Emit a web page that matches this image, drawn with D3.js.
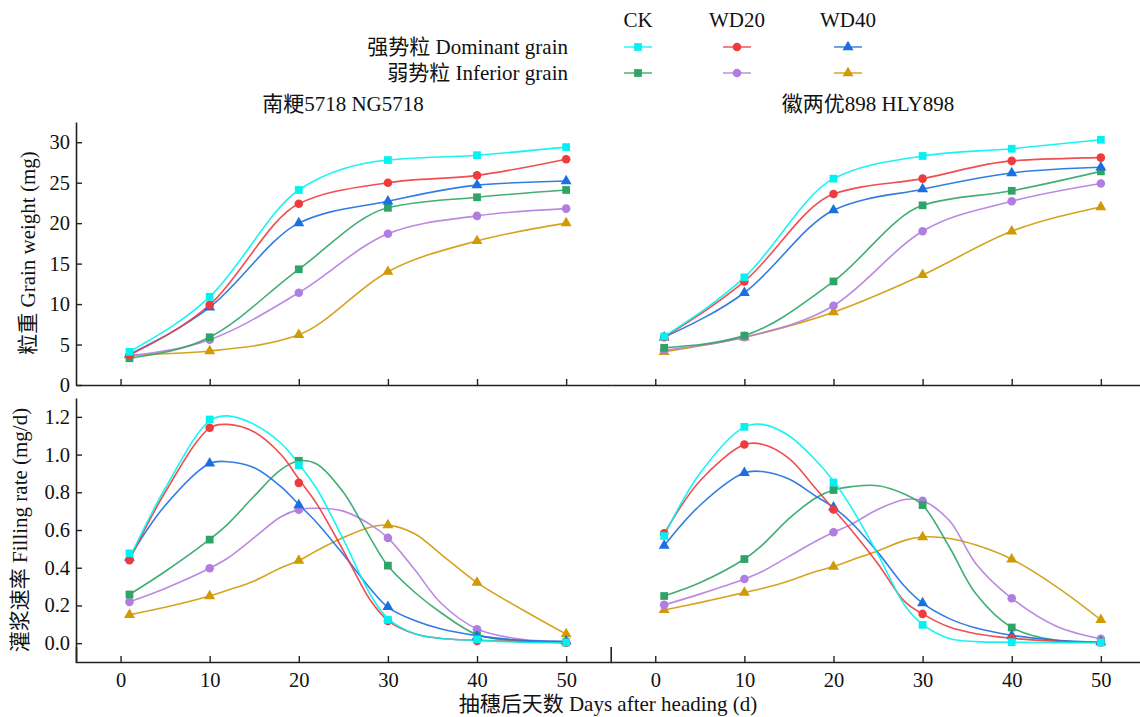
<!DOCTYPE html>
<html><head><meta charset="utf-8">
<script src="https://cdn.jsdelivr.net/npm/d3@7"></script>
<style>
body{margin:0;background:#fff}
svg{display:block}
text{font-family:"Liberation Serif","Times New Roman","Noto Sans CJK SC",serif;fill:#111}
</style>
</head><body>
<svg id="c" width="1140" height="717"></svg>
<script>
// ---------- DATA ----------
const days = [1, 10, 20, 30, 40, 50];
const fitDays = [1, 5, 10, 12, 15, 18, 20, 22, 25, 28, 30, 33, 36, 40, 45, 50];
const xTicks = [0, 10, 20, 30, 40, 50];
const weightTicks = [0, 5, 10, 15, 20, 25, 30];
const rateTicks = [0, 0.2, 0.4, 0.6, 0.8, 1.0, 1.2];
const treatments = ["CK", "WD20", "WD40"];
const grainTypes = ["强势粒 Dominant grain", "弱势粒 Inferior grain"];
const cultivars = ["南粳5718 NG5718", "徽两优898 HLY898"];
const yLabelWeight = "粒重 Grain weight (mg)";
const yLabelRate = "灌浆速率 Filling rate (mg/d)";
const xLabel = "抽穗后天数 Days after heading (d)";

// Grain weight (mg) — NG5718
const ngWeightDomCK   = [4.1, 10.9, 24.1, 27.8, 28.4, 29.4];
const ngWeightDomWD20 = [3.7, 9.9, 22.4, 25.0, 25.9, 27.9];
const ngWeightDomWD40 = [3.8, 9.6, 20.0, 22.7, 24.7, 25.2];
const ngWeightInfCK   = [3.3, 5.9, 14.3, 21.9, 23.2, 24.1];
const ngWeightInfWD20 = [3.6, 5.6, 11.4, 18.7, 20.9, 21.8];
const ngWeightInfWD40 = [3.7, 4.2, 6.2, 14.0, 17.8, 20.0];
// Grain weight (mg) — HLY898
const hlyWeightDomCK   = [6.0, 13.3, 25.5, 28.3, 29.2, 30.3];
const hlyWeightDomWD20 = [5.9, 12.8, 23.6, 25.5, 27.7, 28.1];
const hlyWeightDomWD40 = [5.9, 11.4, 21.6, 24.2, 26.2, 26.9];
const hlyWeightInfCK   = [4.6, 6.1, 12.8, 22.2, 24.0, 26.4];
const hlyWeightInfWD20 = [4.3, 5.9, 9.8, 19.0, 22.7, 24.9];
const hlyWeightInfWD40 = [4.1, 5.9, 9.0, 13.6, 19.0, 22.0];

// Filling rate markers (mg/d) — NG5718
const ngRateDomCK   = [0.476, 1.186, 0.944, 0.124, 0.02, 0.004];
const ngRateDomWD20 = [0.44, 1.142, 0.85, 0.118, 0.012, 0.002];
const ngRateDomWD40 = [0.454, 0.953, 0.732, 0.192, 0.035, 0.01];
const ngRateInfCK   = [0.258, 0.549, 0.967, 0.411, 0.04, 0.004];
const ngRateInfWD20 = [0.219, 0.397, 0.708, 0.558, 0.074, 0.009];
const ngRateInfWD40 = [0.15, 0.25, 0.438, 0.626, 0.321, 0.048];
// Filling rate markers (mg/d) — HLY898
const hlyRateDomCK   = [0.568, 1.147, 0.852, 0.097, 0.005, 0.004];
const hlyRateDomWD20 = [0.582, 1.053, 0.709, 0.155, 0.026, 0.005];
const hlyRateDomWD40 = [0.517, 0.903, 0.72, 0.212, 0.04, 0.005];
const hlyRateInfCK   = [0.25, 0.446, 0.812, 0.732, 0.083, 0.004];
const hlyRateInfWD20 = [0.203, 0.34, 0.588, 0.755, 0.238, 0.023];
const hlyRateInfWD40 = [0.176, 0.268, 0.406, 0.563, 0.445, 0.124];

// Fitted filling-rate curves at fitDays
const ngFitDomCK   = [0.45, 0.82, 1.18, 1.205, 1.16, 1.06, 0.95, 0.82, 0.55, 0.26, 0.13, 0.05, 0.025, 0.015, 0.005, 0.002];
const ngFitDomWD20 = [0.44, 0.80, 1.14, 1.16, 1.12, 1.0, 0.87, 0.74, 0.49, 0.23, 0.12, 0.05, 0.025, 0.015, 0.008, 0.003];
const ngFitDomWD40 = [0.455, 0.73, 0.953, 0.962, 0.93, 0.83, 0.735, 0.64, 0.47, 0.29, 0.19, 0.12, 0.075, 0.04, 0.015, 0.008];
const ngFitInfCK   = [0.258, 0.38, 0.55, 0.63, 0.78, 0.92, 0.967, 0.95, 0.80, 0.56, 0.41, 0.27, 0.16, 0.045, 0.01, 0.004];
const ngFitInfWD20 = [0.219, 0.29, 0.397, 0.45, 0.56, 0.67, 0.708, 0.715, 0.70, 0.63, 0.558, 0.39, 0.21, 0.075, 0.02, 0.009];
const ngFitInfWD40 = [0.15, 0.19, 0.25, 0.28, 0.33, 0.40, 0.438, 0.49, 0.56, 0.615, 0.626, 0.58, 0.47, 0.321, 0.18, 0.048];
const hlyFitDomCK   = [0.57, 0.90, 1.147, 1.16, 1.10, 0.97, 0.86, 0.72, 0.47, 0.20, 0.10, 0.025, 0.008, 0.005, 0.003, 0.003];
const hlyFitDomWD20 = [0.58, 0.86, 1.053, 1.055, 0.98, 0.82, 0.71, 0.60, 0.42, 0.22, 0.155, 0.085, 0.05, 0.026, 0.01, 0.005];
const hlyFitDomWD40 = [0.517, 0.73, 0.903, 0.91, 0.87, 0.78, 0.72, 0.64, 0.48, 0.30, 0.212, 0.13, 0.08, 0.042, 0.015, 0.005];
const hlyFitInfCK   = [0.25, 0.32, 0.446, 0.52, 0.66, 0.77, 0.812, 0.83, 0.835, 0.79, 0.732, 0.51, 0.26, 0.083, 0.015, 0.004];
const hlyFitInfWD20 = [0.203, 0.26, 0.34, 0.38, 0.46, 0.54, 0.588, 0.63, 0.71, 0.762, 0.755, 0.65, 0.42, 0.238, 0.09, 0.023];
const hlyFitInfWD40 = [0.176, 0.215, 0.268, 0.29, 0.33, 0.38, 0.406, 0.44, 0.49, 0.545, 0.563, 0.555, 0.52, 0.445, 0.3, 0.124];

// ---------- assemble ----------
const seriesList = [
  {p:0, g:0, t:0, w:ngWeightDomCK,   r:ngRateDomCK,   f:ngFitDomCK},
  {p:0, g:0, t:1, w:ngWeightDomWD20, r:ngRateDomWD20, f:ngFitDomWD20},
  {p:0, g:0, t:2, w:ngWeightDomWD40, r:ngRateDomWD40, f:ngFitDomWD40},
  {p:0, g:1, t:0, w:ngWeightInfCK,   r:ngRateInfCK,   f:ngFitInfCK},
  {p:0, g:1, t:1, w:ngWeightInfWD20, r:ngRateInfWD20, f:ngFitInfWD20},
  {p:0, g:1, t:2, w:ngWeightInfWD40, r:ngRateInfWD40, f:ngFitInfWD40},
  {p:1, g:0, t:0, w:hlyWeightDomCK,   r:hlyRateDomCK,   f:hlyFitDomCK},
  {p:1, g:0, t:1, w:hlyWeightDomWD20, r:hlyRateDomWD20, f:hlyFitDomWD20},
  {p:1, g:0, t:2, w:hlyWeightDomWD40, r:hlyRateDomWD40, f:hlyFitDomWD40},
  {p:1, g:1, t:0, w:hlyWeightInfCK,   r:hlyRateInfCK,   f:hlyFitInfCK},
  {p:1, g:1, t:1, w:hlyWeightInfWD20, r:hlyRateInfWD20, f:hlyFitInfWD20},
  {p:1, g:1, t:2, w:hlyWeightInfWD40, r:hlyRateInfWD40, f:hlyFitInfWD40}
];

// ---------- styles ----------
const colors = [["#00F2F2", "#EE3B3E", "#1C6FE0"], ["#2EA466", "#B27DE0", "#D09A05"]];
const shapes = [d3.symbolSquare, d3.symbolCircle, d3.symbolTriangle];
const shapeSize = [60, 58, 52];

const svg = d3.select("#c");
const xs = [d3.scaleLinear([-5, 55], [76, 610.7]), d3.scaleLinear([-5, 55], [610.7, 1145.4])];
const yW = d3.scaleLinear([0, 32.5], [385, 122]);
const yR = d3.scaleLinear([-0.1, 1.3], [662, 398]);
const axisColor = "#222";
const tickFont = 20.5;
const labelFont = 21;

function styleAxis(g) {
  g.selectAll("path.domain").attr("stroke", axisColor).attr("stroke-width", 1.6);
  g.selectAll(".tick line").attr("stroke", axisColor).attr("stroke-width", 1.4);
  g.selectAll("text").attr("font-size", tickFont).attr("fill", "#111")
    .attr("font-family", '"Liberation Serif","Times New Roman",serif');
  g.attr("font-size", null).attr("font-family", null);
}

// X axes
xs.forEach((x, i) => {
  svg.append("g").attr("transform", "translate(0,385)")
    .call(d3.axisBottom(x).tickValues(xTicks).tickFormat("").tickSizeInner(-6).tickSizeOuter(0))
    .call(styleAxis);
  svg.append("g").attr("transform", "translate(0,662)")
    .call(d3.axisBottom(x).tickValues(xTicks).tickFormat(d3.format("d")).tickSizeInner(-6)
      .tickSizeOuter(i === 0 ? -15 : 0).tickPadding(10))
    .call(styleAxis);
});
// Y axes
svg.append("g").attr("transform", "translate(76,0)")
  .call(d3.axisLeft(yW).tickValues(weightTicks).tickFormat(d3.format("d")).tickSizeInner(-6).tickSizeOuter(0).tickPadding(6))
  .call(styleAxis);
svg.append("g").attr("transform", "translate(76,0)")
  .call(d3.axisLeft(yR).tickValues(rateTicks).tickFormat(d3.format(".1f")).tickSizeInner(-6).tickSizeOuter(0).tickPadding(6))
  .call(styleAxis);

// curves + markers
const weightLine = (x) => d3.line().x((d, i) => x(days[i])).y(d => yW(d)).curve(d3.curveMonotoneX);
const fitLine = (x) => d3.line().x((d, i) => x(fitDays[i])).y(d => yR(d)).curve(d3.curveCatmullRom.alpha(0.5));

const drawOrder = [5, 4, 3, 2, 1, 0, 11, 10, 9, 8, 7, 6];
drawOrder.forEach(k => {
  const s = seriesList[k];
  const x = xs[s.p];
  const c = colors[s.g][s.t];
  svg.append("path").attr("d", weightLine(x)(s.w)).attr("fill", "none")
    .attr("stroke", c).attr("stroke-width", 1.6).attr("stroke-opacity", 0.9);
  svg.append("path").attr("d", fitLine(x)(s.f)).attr("fill", "none")
    .attr("stroke", c).attr("stroke-width", 1.6).attr("stroke-opacity", 0.9);
});
drawOrder.forEach(k => {
  const s = seriesList[k];
  const x = xs[s.p];
  const c = colors[s.g][s.t];
  const sym = d3.symbol().type(shapes[s.t]).size(shapeSize[s.t]);
  svg.append("g").selectAll("path").data(s.w).join("path")
    .attr("transform", (d, i) => `translate(${x(days[i])},${yW(d)})`)
    .attr("d", sym).attr("fill", c);
  svg.append("g").selectAll("path").data(s.r).join("path")
    .attr("transform", (d, i) => `translate(${x(days[i])},${yR(d)})`)
    .attr("d", sym).attr("fill", c);
});

// Titles / labels
const titleX = [343, 868];
cultivars.forEach((t, i) => {
  svg.append("text").attr("x", titleX[i]).attr("y", 111).attr("text-anchor", "middle")
    .attr("font-size", labelFont).text(t);
});
svg.append("text").attr("transform", "translate(35,253) rotate(-90)").attr("text-anchor", "middle")
  .attr("font-size", labelFont).text(yLabelWeight);
svg.append("text").attr("transform", "translate(27,530) rotate(-90)").attr("text-anchor", "middle")
  .attr("font-size", labelFont).text(yLabelRate);
svg.append("text").attr("x", 608).attr("y", 711).attr("text-anchor", "middle")
  .attr("font-size", labelFont).text(xLabel);

// Legend
const legX = [638, 737, 848];
const legY = [47, 73];
treatments.forEach((t, j) => {
  svg.append("text").attr("x", legX[j]).attr("y", 27).attr("text-anchor", "middle")
    .attr("font-size", labelFont).text(t);
});
grainTypes.forEach((g, i) => {
  svg.append("text").attr("x", 568).attr("y", legY[i] + 7).attr("text-anchor", "end")
    .attr("font-size", labelFont).text(g);
  treatments.forEach((t, j) => {
    const c = colors[i][j];
    svg.append("line").attr("x1", legX[j] - 14).attr("x2", legX[j] + 14)
      .attr("y1", legY[i]).attr("y2", legY[i]).attr("stroke", c).attr("stroke-width", 1.6).attr("stroke-opacity", 0.8);
    svg.append("path").attr("transform", `translate(${legX[j]},${legY[i]})`)
      .attr("d", d3.symbol().type(shapes[j]).size(shapeSize[j])).attr("fill", c);
  });
});
</script>
</body></html>
